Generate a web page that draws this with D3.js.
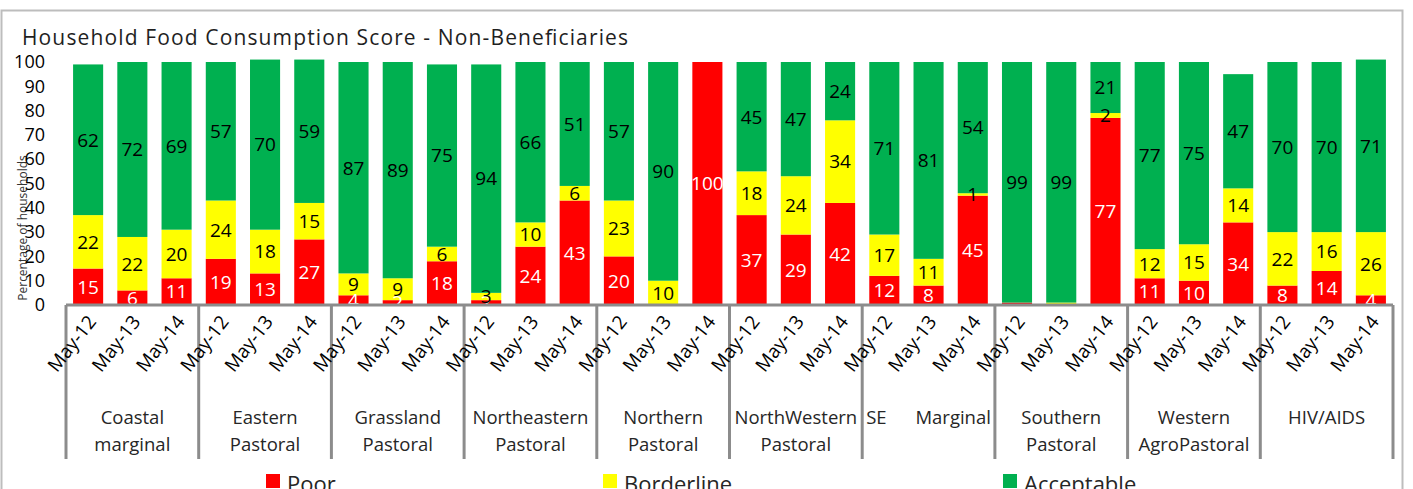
<!DOCTYPE html>
<html>
<head>
<meta charset="utf-8">
<script src="https://cdn.jsdelivr.net/npm/d3@7"></script>
<style>
    body { margin: 0; background: #fff; }
    text { font-family: "Open Sans", "Noto Sans", sans-serif; }
</style>
</head>
<body>
<div id="chart"></div>
<script>
// Regions (outer category level) and survey rounds (inner level)
const groups = [
    ["Coastal", "marginal"],
    ["Eastern", "Pastoral"],
    ["Grassland", "Pastoral"],
    ["Northeastern", "Pastoral"],
    ["Northern", "Pastoral"],
    ["NorthWestern", "Pastoral"],
    ["SE      Marginal"],
    ["Southern", "Pastoral"],
    ["Western", "AgroPastoral"],
    ["HIV/AIDS"]
];
const periods = ["May-12", "May-13", "May-14"];

// Percent of households per bar, in group order
const poor       = [15, 6, 11, 19, 13, 27, 4, 2, 18, 2, 24, 43, 20, 0, 100, 37, 29, 42, 12, 8, 45, 1, 0, 77, 11, 10, 34, 8, 14, 4];
const borderline = [22, 22, 20, 24, 18, 15, 9, 9, 6, 3, 10, 6, 23, 10, 0, 18, 24, 34, 17, 11, 1, 0, 1, 2, 12, 15, 14, 22, 16, 26];
const acceptable = [62, 72, 69, 57, 70, 59, 87, 89, 75, 94, 66, 51, 57, 90, 0, 45, 47, 24, 71, 81, 54, 99, 99, 21, 77, 75, 47, 70, 70, 71];

const seriesNames = ["Poor", "Borderline", "Acceptable"];
const seriesColors = ["#ff0000", "#ffff00", "#00b050"];
const labelColors = ["#ffffff", "#000000", "#000000"];
const yTicks = [0, 10, 20, 30, 40, 50, 60, 70, 80, 90, 100];

const width = 1413;
const height = 489;

// Build one row per bar
const rows = [];
groups.forEach((g, gi) => {
    periods.forEach((p, pi) => {
        const i = gi * 3 + pi;
        rows.push({ key: gi + "|" + p, period: p, group: gi, Poor: poor[i], Borderline: borderline[i], Acceptable: acceptable[i] });
    });
});

const svg = d3.select("#chart").append("svg")
    .attr("width", width)
    .attr("height", height);

// Chart frame
svg.append("rect")
    .attr("x", 1.5)
    .attr("y", 10.5)
    .attr("width", 1401)
    .attr("height", 500)
    .attr("fill", "none")
    .attr("stroke", "#bdbdbd")
    .attr("stroke-width", 2);

// Title
svg.append("text")
    .attr("x", 22)
    .attr("y", 45)
    .attr("font-size", 21)
    .attr("textLength", 606)
    .attr("fill", "#1f1f1f")
    .text("Household Food Consumption Score - Non-Beneficiaries");

const x = d3.scaleBand()
    .domain(rows.map(d => d.key))
    .range([66, 1393])
    .paddingInner(0.32)
    .paddingOuter(0.16);

const y = d3.scaleLinear()
    .domain([0, 100])
    .range([305, 62]);

// Garbled axis title from the original export
svg.append("text")
    .attr("transform", "translate(27,228) rotate(-90)")
    .attr("text-anchor", "middle")
    .attr("font-size", 12)
    .attr("fill", "#333")
    .text("Percentage of households");

// Y axis labels (no axis line)
const yAxis = svg.append("g")
    .attr("transform", "translate(45,0)")
    .call(d3.axisLeft(y).tickValues(yTicks).tickSize(0).tickPadding(0));
yAxis.select(".domain").remove();
yAxis.selectAll("text")
    .attr("font-size", 18)
    .attr("fill", "#000")
    .style("font-family", "'Open Sans', sans-serif");

// Stacked bars
const stack = d3.stack().keys(seriesNames);
const layers = stack(rows);

const layer = svg.selectAll(".layer")
    .data(layers)
    .enter()
    .append("g")
    .attr("class", "layer")
    .attr("fill", (d, i) => seriesColors[i]);

layer.selectAll("rect")
    .data(d => d)
    .enter()
    .append("rect")
    .attr("x", d => x(d.data.key))
    .attr("width", x.bandwidth())
    .attr("y", d => y(d[1]))
    .attr("height", d => y(d[0]) - y(d[1]));

// Value labels (tiny slivers sitting on the axis get none, as in the original)
layers.forEach((l, li) => {
    svg.append("g")
        .selectAll("text")
        .data(l.filter(d => d[1] - d[0] > 0 && !(d[0] === 0 && d[1] - d[0] <= 1)))
        .enter()
        .append("text")
        .attr("x", d => x(d.data.key) + x.bandwidth() / 2)
        .attr("y", d => y((d[0] + d[1]) / 2))
        .attr("dy", "0.36em")
        .attr("text-anchor", "middle")
        .attr("font-size", 19)
        .attr("fill", labelColors[li])
        .text(d => d[1] - d[0]);
});

// Category axis line and group dividers
const groupStep = (1393 - 66) / groups.length;
svg.append("line")
    .attr("x1", 66).attr("x2", 1393)
    .attr("y1", 305).attr("y2", 305)
    .attr("stroke", "#8c8c8c")
    .attr("stroke-width", 3);

svg.selectAll(".divider")
    .data(d3.range(groups.length + 1))
    .enter()
    .append("line")
    .attr("class", "divider")
    .attr("x1", d => 66 + d * groupStep)
    .attr("x2", d => 66 + d * groupStep)
    .attr("y1", 305)
    .attr("y2", 459)
    .attr("stroke", "#8c8c8c")
    .attr("stroke-width", 3);

// Period tick labels, rotated
svg.append("g")
    .selectAll("text")
    .data(rows)
    .enter()
    .append("text")
    .attr("transform", d => `translate(${x(d.key) + x.bandwidth() / 2 + 9},${322}) rotate(-52)`)
    .attr("text-anchor", "end")
    .attr("font-size", 19)
    .attr("fill", "#000")
    .text(d => d.period);

// Group labels
const groupLabel = svg.append("g")
    .selectAll("text")
    .data(groups)
    .enter()
    .append("text")
    .attr("x", (d, i) => 66 + (i + 0.5) * groupStep)
    .attr("y", 424)
    .attr("text-anchor", "middle")
    .attr("font-size", 18.5)
    .attr("fill", "#262626")
    .style("white-space", "pre");

groupLabel.selectAll("tspan")
    .data(d => d)
    .enter()
    .append("tspan")
    .attr("x", function () { return d3.select(this.parentNode).attr("x"); })
    .attr("dy", (d, i) => i === 0 ? 0 : 27)
    .text(d => d);

// Legend
const legendX = [266, 603, 1003];
const legend = svg.selectAll(".legend")
    .data(seriesNames)
    .enter()
    .append("g")
    .attr("class", "legend")
    .attr("transform", (d, i) => `translate(${legendX[i]},474)`);

legend.append("rect")
    .attr("width", 14)
    .attr("height", 14)
    .attr("fill", (d, i) => seriesColors[i]);

legend.append("text")
    .attr("x", 21)
    .attr("y", 18)
    .attr("font-size", 22)
    .attr("fill", "#262626")
    .text(d => d);
</script>
</body>
</html>
